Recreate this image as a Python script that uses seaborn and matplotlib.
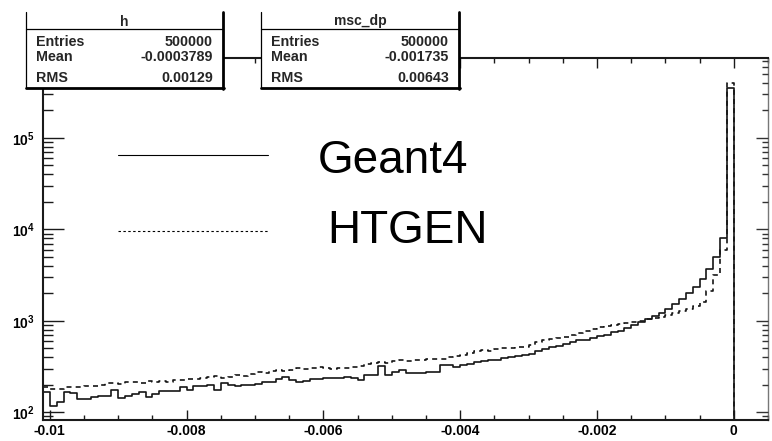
import numpy as np
import pandas as pd
import matplotlib
matplotlib.use("Agg")
import matplotlib.pyplot as plt
from matplotlib.lines import Line2D
from matplotlib.patches import Rectangle
from matplotlib.ticker import (LogLocator, MultipleLocator, NullFormatter,
                               FixedLocator, FixedFormatter)
import seaborn as sns

# ---- histogram contents: momentum change per step, 0.0001 wide bins ----
bin_lo = -0.0101
bin_hi = 0.0005
bin_width = 0.0001

geant4_counts = [
    166, 116, 129, 166, 162, 139, 139, 146, 150, 150,
    174, 142, 150, 157, 166, 146, 157, 170, 170, 170,
    188, 174, 193, 193, 198, 174, 208, 198, 193, 198,
    198, 203, 213, 213, 230, 242, 224, 213, 219, 230,
    230, 236, 236, 236, 242, 236, 224, 254, 254, 319,
    254, 274, 288, 267, 267, 267, 274, 274, 327, 327,
    311, 327, 335, 353, 362, 371, 371, 390, 400, 411,
    421, 432, 466, 490, 515, 528, 556, 584, 615, 615,
    647, 680, 697, 752, 771, 832, 897, 968, 1044, 1126,
    1214, 1343, 1524, 1729, 2011, 2339, 2864, 3683, 4988, 8050,
    354000,
]

htgen_counts = [
    188, 179, 179, 188, 188, 188, 193, 193, 198, 208,
    208, 204, 212, 213, 208, 218, 213, 219, 213, 224,
    224, 228, 230, 236, 242, 246, 236, 240, 254, 250,
    261, 274, 270, 281, 286, 281, 288, 303, 298, 303,
    308, 303, 300, 306, 303, 311, 316, 335, 344, 353,
    349, 362, 371, 366, 375, 371, 380, 385, 380, 400,
    411, 421, 443, 466, 478, 472, 490, 502, 508, 515,
    520, 542, 584, 615, 631, 647, 663, 697, 733, 771,
    811, 853, 875, 897, 920, 944, 968, 993, 1044, 1071,
    1098, 1154, 1214, 1277, 1343, 1449, 1603, 2115, 3168, 5946,
    401000,
]

series_names = ["Geant4", "HTGEN"]
stat_titles = ["h", "msc_dp"]
stat_labels = ["Entries", "Mean", "RMS"]
stat_values = [["500000", "-0.0003789", "0.00129"],
               ["500000", "-0.001735", "0.00643"]]

x_ticks = [-0.01, -0.008, -0.006, -0.004, -0.002, 0.0]
x_tick_labels = ["-0.01", "-0.008", "-0.006", "-0.004", "-0.002", "0"]
y_ticks = [1e2, 1e3, 1e4, 1e5]
y_tick_labels = [r"$\mathbf{10^{2}}$", r"$\mathbf{10^{3}}$",
                 r"$\mathbf{10^{4}}$", r"$\mathbf{10^{5}}$"]
y_limits = (82, 7.5e5)

# ---- long-form table ----
n_data = len(geant4_counts)
centers = bin_lo + bin_width * (np.arange(n_data) + 0.5)
df = pd.DataFrame({
    "dp": np.concatenate([centers, centers]),
    "n": np.concatenate([geant4_counts, htgen_counts]).astype(float),
    "gen": np.repeat(series_names, n_data),
})
edges = [round(v, 6) for v in np.arange(bin_lo, bin_hi + bin_width / 2, bin_width)]

# ---- style ----
sns.set_theme(style="white")
plt.rcParams["font.family"] = ["Liberation Sans", "DejaVu Sans"]
plt.rcParams["mathtext.fontset"] = "custom"
plt.rcParams["mathtext.rm"] = "Liberation Sans"
plt.rcParams["mathtext.bf"] = "Liberation Sans:bold"

W, H = 772, 441
fig = plt.figure(figsize=(W / 100, H / 100), dpi=100)
fig.patch.set_facecolor("white")

def fx(px):
    return px / W

def fy(py):
    return 1 - py / H

ax_l, ax_r, ax_t, ax_b = 43, 768, 58, 420
ax = fig.add_axes([fx(ax_l), fy(ax_b), fx(ax_r) - fx(ax_l), fy(ax_t) - fy(ax_b)])
ax.set_facecolor("white")

line_col = "#151515"
sns.histplot(data=df[df["gen"] == "Geant4"], x="dp", weights="n", bins=edges,
             element="step", fill=False, color=line_col, linewidth=1.2,
             legend=False, ax=ax)
sns.histplot(data=df[df["gen"] == "HTGEN"], x="dp", weights="n", bins=edges,
             element="step", fill=False, color=line_col, linewidth=1.2,
             linestyle=(0, (3, 2.5)), legend=False, ax=ax)

ax.set_yscale("log")
ax.set_xlim(bin_lo, bin_hi)
ax.set_ylim(*y_limits)
ax.set_xlabel("")
ax.set_ylabel("")

# ---- axes frame and ticks ----
for side in ["left", "bottom", "top", "right"]:
    ax.spines[side].set_visible(True)
    ax.spines[side].set_color("#1a1a1a")
    ax.spines[side].set_linewidth(1.5)
ax.spines["right"].set_color("#777777")
ax.spines["right"].set_linewidth(1.0)

ax.xaxis.set_major_locator(FixedLocator(x_ticks))
ax.xaxis.set_major_formatter(FixedFormatter(x_tick_labels))
ax.xaxis.set_minor_locator(MultipleLocator(0.0005))
ax.yaxis.set_major_locator(FixedLocator(y_ticks))
ax.yaxis.set_major_formatter(FixedFormatter(y_tick_labels))
ax.yaxis.set_minor_locator(LogLocator(base=10, subs=np.arange(2, 10), numticks=20))
ax.yaxis.set_minor_formatter(NullFormatter())

ax.tick_params(axis="x", which="major", direction="in", length=7.2, width=1.0,
               top=True, bottom=True, color="#1a1a1a", pad=3,
               labelsize=10, labelcolor="black")
ax.tick_params(axis="x", which="minor", direction="in", length=3.6, width=1.0,
               top=True, bottom=True, color="#1a1a1a")
ax.tick_params(axis="y", which="major", direction="in", length=15, width=1.0,
               left=True, right=False, color="#1a1a1a", pad=6,
               labelsize=10, labelcolor="black")
ax.tick_params(axis="y", which="minor", direction="in", length=7.2, width=1.0,
               left=True, right=False, color="#1a1a1a")
for lab in ax.get_xticklabels():
    lab.set_fontweight("bold")

# right-hand tick marks, shorter than the left ones
axr = ax.twinx()
axr.set_yscale("log")
axr.set_ylim(*y_limits)
axr.yaxis.set_major_locator(FixedLocator(y_ticks))
axr.yaxis.set_minor_locator(LogLocator(base=10, subs=np.arange(2, 10), numticks=20))
axr.yaxis.set_major_formatter(NullFormatter())
axr.yaxis.set_minor_formatter(NullFormatter())
axr.tick_params(axis="y", which="major", direction="in", length=9, width=1.0,
                color="#333333")
axr.tick_params(axis="y", which="minor", direction="in", length=4, width=1.0,
                color="#333333")
for side in axr.spines.values():
    side.set_visible(False)

# ---- legend drawn by hand ----
fig.add_artist(Line2D([fx(118), fx(268)], [fy(155), fy(155)], color="black",
                      linewidth=0.8))
fig.add_artist(Line2D([fx(118), fx(268)], [fy(231), fy(231)], color="black",
                      linewidth=0.8, linestyle=(0, (2.2, 2.2))))
fig.text(fx(318), fy(173), series_names[0], fontsize=33, ha="left",
         va="baseline", color="black")
fig.text(fx(327), fy(243), series_names[1], fontsize=33, ha="left",
         va="baseline", color="black")

# ---- statistics boxes ----
def stat_box(left, right, top, bottom, title, values):
    fig.add_artist(Rectangle((fx(left), fy(bottom)), fx(right) - fx(left),
                             fy(top) - fy(bottom), facecolor="white",
                             edgecolor="none", zorder=5))
    kw = dict(color="black", zorder=6)
    fig.add_artist(Line2D([fx(left), fx(left)], [fy(top), fy(bottom)],
                          linewidth=0.9, **kw))
    fig.add_artist(Line2D([fx(right), fx(right)], [fy(top), fy(bottom + 1)],
                          linewidth=2.0, **kw))
    fig.add_artist(Line2D([fx(left), fx(right + 1)], [fy(bottom), fy(bottom)],
                          linewidth=2.0, **kw))
    fig.add_artist(Line2D([fx(left), fx(right)], [fy(29), fy(29)],
                          linewidth=0.9, **kw))
    mid = (left + right) / 2
    fig.text(fx(mid), fy(21.5), title, fontsize=10, fontweight="bold",
             ha="center", va="center", zorder=7)
    for lab, val, py in zip(stat_labels, values, [42, 57, 78]):
        fig.text(fx(left + 10), fy(py), lab, fontsize=10.3, fontweight="bold",
                 ha="left", va="center", zorder=7)
        fig.text(fx(right - 10), fy(py), val, fontsize=10.3, fontweight="bold",
                 ha="right", va="center", zorder=7)

stat_box(26, 223, 12, 88, stat_titles[0], stat_values[0])
stat_box(261, 459, 12, 88, stat_titles[1], stat_values[1])

fig.savefig("out.png", dpi=100, facecolor="white")
